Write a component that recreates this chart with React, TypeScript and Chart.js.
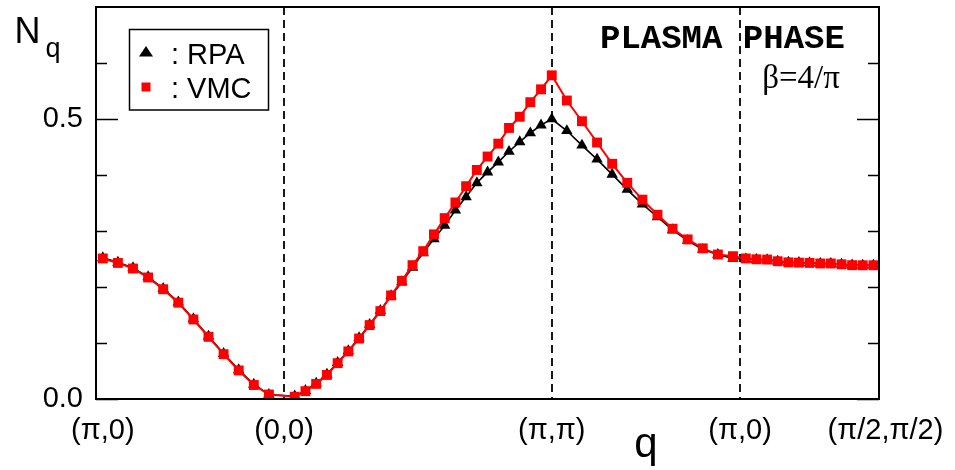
import React, { useEffect, useRef } from 'react';
import { Chart, registerables } from 'chart.js';

Chart.register(...registerables);

// Position along the q-path (units: one lattice step along (pi,0)->(0,0))
const Q_POS = [
  0, 1, 2, 3, 4, 5, 6, 7, 8, 9, 10, 11,
  12.71, 13.42, 14.13, 14.84, 15.55, 16.26, 16.97, 17.67, 18.38, 19.09, 19.8, 20.51, 21.22,
  21.93, 22.64, 23.35, 24.06, 24.77, 25.48, 26.19, 26.9, 27.61, 28.31, 29.02, 29.73,
  30.73, 31.73, 32.73, 33.73, 34.73, 35.73, 36.73, 37.73, 38.73, 39.73, 40.73, 41.73,
  42.58, 43.28, 43.99, 44.69, 45.4, 46.1, 46.8, 47.51, 48.21, 48.92, 49.62, 50.32, 51.03,
];

const RPA = [
  0.252, 0.244, 0.234, 0.218, 0.197, 0.173, 0.143, 0.112, 0.081, 0.052, 0.026, 0.008,
  0.005, 0.015, 0.028, 0.044, 0.065, 0.086, 0.109, 0.133, 0.158, 0.184, 0.209, 0.235, 0.261,
  0.286, 0.31, 0.337, 0.361, 0.386, 0.405, 0.423, 0.442, 0.459, 0.475, 0.489, 0.5,
  0.479, 0.453, 0.428, 0.401, 0.374, 0.348, 0.325, 0.302, 0.283, 0.267, 0.258, 0.251,
  0.25, 0.249, 0.2485, 0.246, 0.244, 0.2435, 0.243, 0.242, 0.242, 0.2405, 0.239, 0.2388, 0.2388,
];

const VMC = [
  0.251, 0.243, 0.233, 0.217, 0.196, 0.172, 0.142, 0.111, 0.08, 0.051, 0.025, 0.008,
  0.004, 0.014, 0.027, 0.043, 0.064, 0.085, 0.108, 0.132, 0.157, 0.185, 0.211, 0.239, 0.264,
  0.294, 0.323, 0.351, 0.38, 0.409, 0.433, 0.456, 0.484, 0.504, 0.53, 0.553, 0.578,
  0.533, 0.496, 0.458, 0.42, 0.386, 0.356, 0.329, 0.304, 0.285, 0.269, 0.258, 0.255,
  0.251, 0.2495, 0.249, 0.246, 0.244, 0.2435, 0.243, 0.242, 0.242, 0.2405, 0.239, 0.2388, 0.2388,
];

const X_TICK_POS = [0, 12, 29.73, 42.2, 51.03];
const X_TICK_LABELS = ['(π,0)', '(0,0)', '(π,π)', '(π,0)', '   (π/2,π/2)'];
const DASHED_AT = [12, 29.73, 42.2];
const Y_MAJOR = [0, 0.5];
const Y_MINOR = [0.1, 0.2, 0.3, 0.4, 0.6];

const SANS = '"Liberation Sans", Arial, sans-serif';

const decorPlugin = {
  id: 'decor',
  beforeDatasetsDraw(chart: any) {
    const { ctx, chartArea: a, scales } = chart;
    ctx.save();
    ctx.strokeStyle = '#000';
    ctx.lineWidth = 1.8;
    ctx.setLineDash([8, 5]);
    DASHED_AT.forEach((v) => {
      const x = Math.round(scales.x.getPixelForValue(v));
      ctx.beginPath();
      ctx.moveTo(x, a.top);
      ctx.lineTo(x, a.bottom);
      ctx.stroke();
    });
    ctx.restore();
  },
  afterDraw(chart: any) {
    const { ctx, chartArea: a, scales } = chart;
    ctx.save();
    // frame
    ctx.strokeStyle = '#000';
    ctx.lineWidth = 2;
    ctx.strokeRect(a.left, a.top, a.right - a.left, a.bottom - a.top);
    // y ticks inward on both sides
    ctx.lineWidth = 1.5;
    const drawTick = (v: number, len: number) => {
      const y = Math.round(scales.y.getPixelForValue(v)) + 0.5;
      ctx.beginPath();
      ctx.moveTo(a.left, y);
      ctx.lineTo(a.left + len, y);
      ctx.moveTo(a.right, y);
      ctx.lineTo(a.right - len, y);
      ctx.stroke();
    };
    Y_MAJOR.forEach((v) => drawTick(v, 22));
    Y_MINOR.forEach((v) => drawTick(v, 11));

    // legend box
    ctx.lineWidth = 1.5;
    ctx.strokeRect(129.5, 29.5, 139, 80.5);
    // triangle marker
    ctx.fillStyle = '#000';
    ctx.beginPath();
    ctx.moveTo(146, 46);
    ctx.lineTo(153, 56.5);
    ctx.lineTo(139, 56.5);
    ctx.closePath();
    ctx.fill();
    // square marker
    ctx.fillStyle = '#ff0000';
    ctx.fillRect(141.5, 82.5, 9, 9);
    ctx.fillStyle = '#000';
    ctx.font = `29px ${SANS}`;
    ctx.textAlign = 'left';
    ctx.textBaseline = 'alphabetic';
    ctx.fillText(': RPA', 171, 64);
    ctx.fillText(': VMC', 171, 98);

    // N_q
    ctx.font = `36px ${SANS}`;
    ctx.fillText('N', 14.5, 43);
    ctx.font = `27px ${SANS}`;
    ctx.fillText('q', 45.5, 57);

    // q axis title
    ctx.font = `42px ${SANS}`;
    ctx.textAlign = 'center';
    ctx.fillText('q', 646, 457);

    // annotation
    ctx.font = 'bold 34px "Liberation Mono", "Courier New", monospace';
    ctx.textAlign = 'left';
    ctx.fillText('PLASMA PHASE', 600, 48);
    ctx.font = '33px "Liberation Serif", "Times New Roman", serif';
    ctx.textAlign = 'center';
    ctx.fillText('β=4/π', 801, 88);
    ctx.restore();
  },
};

export default function App() {
  const ref = useRef<HTMLCanvasElement>(null);

  useEffect(() => {
    if (!ref.current) return;
    const chart = new Chart(ref.current, {
      type: 'line',
      data: {
        datasets: [
          {
            label: 'VMC',
            data: Q_POS.map((x, i) => ({ x, y: VMC[i] })),
            borderColor: '#ff0000',
            backgroundColor: '#ff0000',
            borderWidth: 2,
            pointStyle: 'rect',
            pointRadius: 7,
            pointBorderWidth: 0,
            pointBackgroundColor: '#ff0000',
            order: 0,
          },
          {
            label: 'RPA',
            data: Q_POS.map((x, i) => ({ x, y: RPA[i] })),
            borderColor: '#000',
            backgroundColor: '#000',
            borderWidth: 1.6,
            pointStyle: 'triangle',
            pointRadius: 6.6,
            pointBorderWidth: 0,
            pointBackgroundColor: '#000',
            order: 1,
          },
        ],
      },
      options: {
        animation: false,
        responsive: false,
        maintainAspectRatio: false,
        layout: { padding: { top: 7, right: 76, left: 0, bottom: 0 } },
        plugins: {
          legend: { display: false },
          tooltip: { enabled: false },
        },
        scales: {
          x: {
            type: 'linear',
            min: -0.45,
            max: 51.4,
            grid: { display: false, drawTicks: false },
            border: { display: false },
            afterBuildTicks: (s: any) => {
              s.ticks = X_TICK_POS.map((v) => ({ value: v }));
            },
            afterFit: (s: any) => {
              s.height = 71;
              s.paddingLeft = 0;
              s.paddingRight = 0;
            },
            ticks: {
              autoSkip: false,
              maxRotation: 0,
              minRotation: 0,
              padding: 15,
              color: '#000',
              font: { family: SANS, size: 29 },
              callback: (_v: any, i: number) => X_TICK_LABELS[i],
            },
          },
          y: {
            type: 'linear',
            min: 0,
            max: 0.7,
            grid: { display: false, drawTicks: false },
            border: { display: false },
            afterFit: (s: any) => {
              s.width = 96;
              s.paddingTop = 0;
              s.paddingBottom = 0;
            },
            ticks: {
              stepSize: 0.1,
              padding: 13,
              color: '#000',
              font: { family: SANS, size: 29 },
              callback: (v: any) => {
                const n = Number(v);
                return Y_MAJOR.some((m) => Math.abs(m - n) < 1e-9) ? n.toFixed(1) : '';
              },
            },
          },
        },
      },
      plugins: [decorPlugin],
    });
    return () => chart.destroy();
  }, []);

  return (
    <div style={{ position: 'absolute', left: 0, top: 0, width: 955, height: 470, background: '#fff' }}>
      <canvas ref={ref} width={955} height={470} style={{ display: 'block' }} />
    </div>
  );
}
